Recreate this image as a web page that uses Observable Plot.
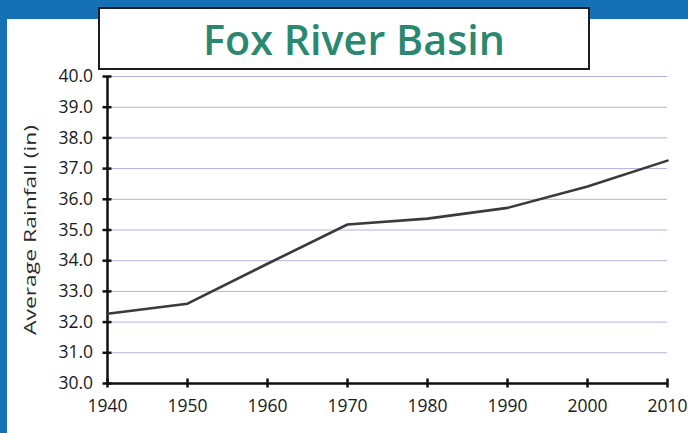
<!DOCTYPE html>
<html>
<head>
<meta charset="utf-8">
<script src="https://cdn.jsdelivr.net/npm/d3@7"></script>
<script src="https://cdn.jsdelivr.net/npm/@observablehq/plot@0.6"></script>
<style>
  html, body { margin: 0; padding: 0; background: #ffffff; }
  #wrap { position: relative; width: 688px; height: 433px; overflow: hidden; background: #fff; }
  #blueTop { position: absolute; left: 0; top: 0; width: 688px; height: 19px; background: #1570b5; }
  #blueLeft { position: absolute; left: 0; top: 0; width: 7px; height: 433px; background: #1570b5; }
  #chart { position: absolute; left: 0; top: 0; }
  #titleBox { position: absolute; left: 98px; top: 7px; width: 488px; height: 59px; border: 2px solid #1e1e1e; background: #fff; }
  #titleBox svg { position: absolute; left: 0; top: 0; }
</style>
</head>
<body>
<div id="wrap">
  <div id="blueTop"></div>
  <div id="blueLeft"></div>
  <div id="chart"></div>
  <div id="titleBox">
    <svg width="488" height="59">
      <text x="103" y="46" textLength="302" lengthAdjust="spacingAndGlyphs"
        font-family="'Open Sans', sans-serif" font-weight="600" font-size="41" fill="#2b8870">Fox River Basin</text>
    </svg>
  </div>
</div>
<script>
const years = [1940, 1950, 1960, 1970, 1980, 1990, 2000, 2010];
const rainfall = [32.27, 32.6, 33.9, 35.18, 35.37, 35.72, 36.42, 37.26];
const yTicks = [30, 31, 32, 33, 34, 35, 36, 37, 38, 39, 40];
const yLabel = "Average Rainfall (in)";

const data = years.map((y, i) => ({year: y, rain: rainfall[i]}));

const chart = Plot.plot({
  width: 688,
  height: 433,
  marginLeft: 107,
  marginRight: 21,
  marginTop: 76,
  marginBottom: 50,
  style: {background: "transparent", fontFamily: "'Open Sans', sans-serif", fontSize: "17px", color: "#1a1a1a"},
  x: {domain: [1940, 2010]},
  y: {domain: [30, 40]},
  marks: [
    Plot.ruleY(yTicks.filter(d => d > 30), {stroke: "#b9aedd", strokeWidth: 1}),
    Plot.axisX({ticks: years, tickFormat: d => String(d), tickSize: 9, dy: -4.5, tickPadding: 12,
      strokeWidth: 2.5, stroke: "#111", label: null, fill: "#1a1a1a", fontSize: 17.5}),
    Plot.axisY({ticks: yTicks, tickFormat: d => d.toFixed(1), tickSize: 9, dx: 4.5, tickPadding: 10,
      strokeWidth: 2.5, stroke: "#111", label: yLabel, labelAnchor: "center", labelArrow: "none",
      labelOffset: 84, fill: "#1a1a1a", fontSize: 17.5}),
    Plot.ruleX([1940], {stroke: "#111", strokeWidth: 2.5}),
    Plot.ruleY([30], {stroke: "#111", strokeWidth: 2.5}),
    Plot.line(data, {x: "year", y: "rain", stroke: "#3a3a3a", strokeWidth: 2.6})
  ]
});
document.getElementById("chart").appendChild(chart);
const lab = d3.select(chart).select('[aria-label="y-axis label"] text');
lab.attr("textLength", 210).attr("lengthAdjust", "spacingAndGlyphs").style("font-size", "17px").attr("fill", "#2a2a2a");
</script>
</body>
</html>
